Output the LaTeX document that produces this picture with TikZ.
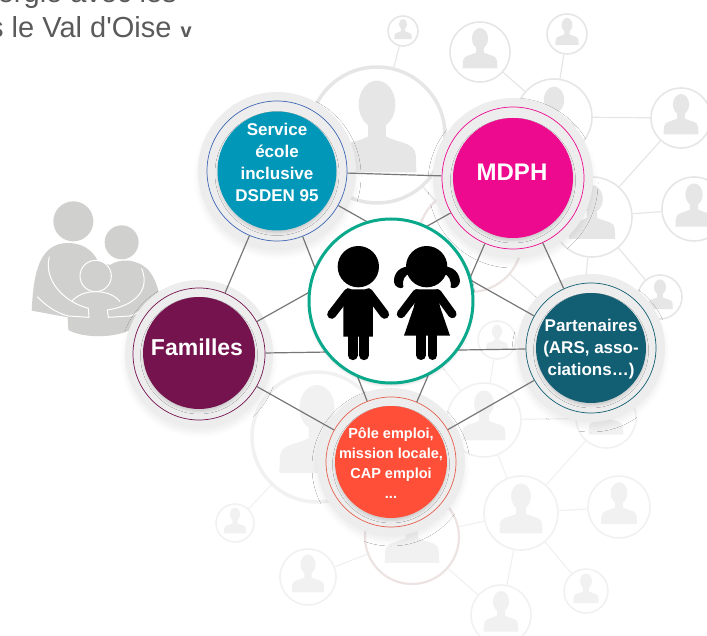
\documentclass[tikz,border=0pt]{standalone}
\usepackage{fontspec}
\setmainfont{Liberation Sans}
\usetikzlibrary{shadows.blur}
\definecolor{halogray}{HTML}{EDEDED}
\definecolor{linkgray}{HTML}{777777}
\definecolor{bgline}{HTML}{E6E6E6}
\definecolor{bglight}{HTML}{F1F1F1}
\definecolor{bgpink}{HTML}{EDE3E3}
\definecolor{familygray}{HTML}{D0D0CF}
\definecolor{titlegray}{HTML}{5A5A5A}
\definecolor{schoolblue}{HTML}{0097B8}
\definecolor{schoolring}{HTML}{3F67B5}
\definecolor{mdphpink}{HTML}{EE0A8F}
\definecolor{familyplum}{HTML}{75134F}
\definecolor{partnerteal}{HTML}{125E73}
\definecolor{jobred}{HTML}{FF4F38}
\definecolor{jobring}{HTML}{E5604F}
\definecolor{kidgreen}{HTML}{0AA98C}
\tikzstyle{contact}=[circle,draw=bgline,fill=white,line width=1.6pt,inner sep=0pt]
\tikzstyle{contactlight}=[contact,draw=bglight]
\tikzstyle{contactlink}=[draw=bgline,line width=1.2pt]
\tikzstyle{contactlinklight}=[draw=bglight,line width=1.2pt]
\tikzstyle{softshadow}=[blur shadow={shadow xshift=0pt,shadow yshift=-5pt,shadow blur radius=5pt,shadow blur steps=8,shadow opacity=7}]
\tikzstyle{discshadow}=[blur shadow={shadow xshift=0pt,shadow yshift=-2.5pt,shadow blur radius=2.5pt,shadow blur steps=4,shadow opacity=14}]
\tikzstyle{hubhalo}=[circle,fill=halogray,inner sep=0pt,softshadow]
\tikzstyle{hubring}=[circle,fill=halogray,line width=.7pt,inner sep=0pt]
\tikzstyle{hubdisc}=[circle,inner sep=0pt,discshadow]
\tikzstyle{hublink}=[draw=linkgray,line width=1.2pt]
\tikzstyle{hubtext}=[text=white,font=\bfseries,align=center,inner sep=0pt]
\tikzset{
  person/.pic={
    \fill[pic actions] (0,-.45) ellipse (.27 and .35);
    \fill[pic actions] (-.13,-.2) -- (-.13,.02) .. controls (-.3,.12) and (-.56,.1) .. (-.57,.3) -- (-.58,.55) -- (.58,.55) -- (.57,.3) .. controls (.56,.1) and (.3,.12) .. (.13,.02) -- (.13,-.2) -- cycle;
  }
}

\begin{document}
\begin{tikzpicture}[x=1pt,y=-1pt]
\useasboundingbox (0,0) rectangle (707,636);
\clip (0,0) rectangle (707,636);

% title, cut by the frame
\node[anchor=base east,inner sep=0pt,text=titlegray,font=\fontsize{29}{29}\selectfont] (titleA) at (177,3) {ergie avec les};
\node[anchor=base west,inner sep=0pt,text=titlegray,font=\fontsize{29}{29}\selectfont] (titleB) at (-11,38) {s le Val d\textquotesingle Oise};
\node[anchor=base west,inner sep=0pt,text=titlegray,font=\fontsize{20}{20}\selectfont\bfseries] (titleV) at (180.5,38) {v};

% family
\begin{scope}[shift={(20,190)},x=.3333pt,y=-.3333pt]
\fill[familygray] (160,94) circle (60);
\fill[familygray] (305,157) circle (51);
\fill[familygray] (35,362) .. controls (40,270) and (50,170) .. (130,160) .. controls (180,155) and (215,175) .. (235,215) -- (270,225) .. controls (300,205) and (350,205) .. (385,240) .. controls (410,270) and (420,310) .. (420,345) -- (330,420) .. controls (280,445) and (190,445) .. (145,420) -- (143,382) -- cycle;
\draw[white,line width=1pt] (88,200) .. controls (70,270) and (130,335) .. (205,355) -- (207,382) -- (145,378) .. controls (110,370) and (75,345) .. (52,320);
\draw[white,line width=1pt] (365,235) .. controls (395,310) and (330,350) .. (262,360) -- (265,382) -- (330,378) .. controls (365,365) and (395,345) .. (420,322);
\draw[white,line width=1pt] (155,335) .. controls (185,295) and (270,295) .. (300,335);
\draw[familygray,fill=familygray,line width=0pt] (227,258) circle (46);
\draw[white,line width=1pt] (227,258) circle (47);
\end{scope}

% contacts behind
\node[contact,line width=3.5pt,minimum size=136pt] (big) at (377,135) {};
\node[contact,minimum size=76pt] (d) at (554,117) {};
\node[contact,minimum size=80pt] (g) at (592,217) {};
\node[contact,draw=bgpink,line width=2.2pt,minimum size=104pt] (t) at (470,240) {};
\node[contact,minimum size=30pt] (a) at (403,31) {};
\node[contact,minimum size=60pt] (b) at (480,52) {};
\node[contact,minimum size=40pt] (c) at (567,34) {};
\node[contact,minimum size=60pt] (e) at (681,118) {};
\node[contact,minimum size=64pt] (f) at (694,209) {};
\node[contact,minimum size=44pt] (h) at (660,297) {};
\node[contactlight,minimum size=38pt] (i) at (497,340) {};
\node[contactlight,minimum size=74pt] (j) at (484,420) {};
\node[contactlight,minimum size=60pt] (k) at (606,418) {};
\node[contactlight,minimum size=74pt] (l) at (521,513) {};
\node[contactlight,minimum size=62pt] (m) at (619,507) {};
\node[contactlight,minimum size=44pt] (n) at (586,591) {};
\node[contactlight,minimum size=60pt] (o) at (501,615) {};
\node[contact,draw=bgpink,line width=2.2pt,minimum size=94pt] (p) at (412,537) {};
\node[contactlight,line width=3.5pt,minimum size=130pt] (q) at (317,437) {};
\node[contactlight,minimum size=38pt] (r) at (235,523) {};
\node[contactlight,minimum size=56pt] (s) at (308,577) {};
\coordinate (hidA) at (580,335);
\coordinate (hidB) at (425,345);

\pic[fill=bgline,scale=68] at (big) {person};
\pic[fill=bgline,scale=38] at (d) {person};
\pic[fill=bgline,scale=40] at (g) {person};
\pic[fill=bgline,scale=15] at (a) {person};
\pic[fill=bgline,scale=30] at (b) {person};
\pic[fill=bgline,scale=20] at (c) {person};
\pic[fill=bgline,scale=30] at (e) {person};
\pic[fill=bgline,scale=32] at (f) {person};
\pic[fill=bgline,scale=22] at (h) {person};
\pic[fill=bglight,scale=19] at (i) {person};
\pic[fill=bglight,scale=37] at (j) {person};
\pic[fill=bglight,scale=30] at (k) {person};
\pic[fill=bglight,scale=37] at (l) {person};
\pic[fill=bglight,scale=31] at (m) {person};
\pic[fill=bglight,scale=22] at (n) {person};
\pic[fill=bglight,scale=30] at (o) {person};
\pic[fill=bglight,scale=47] at (p) {person};
\pic[fill=bglight,scale=65] at (q) {person};
\pic[fill=bglight,scale=19] at (r) {person};
\pic[fill=bglight,scale=28] at (s) {person};

\draw[contactlink] (a) -- (big);
\draw[contactlink] (b) -- (d);
\draw[contactlink] (c) -- (d);
\draw[contactlink] (d) -- (e);
\draw[contactlink] (e) -- (g);
\draw[contactlink] (f) -- (g);
\draw[contactlink] (g) -- (h);
\draw[contactlink] (g) -- (hidA);
\draw[contactlink] (big) -- (t);
\draw[contactlink] (t) -- (hidA);
\draw[contactlinklight] (i) -- (j);
\draw[contactlinklight] (hidB) -- (j);
\draw[contactlinklight] (j) -- (k);
\draw[contactlinklight] (j) -- (l);
\draw[contactlinklight] (k) -- (l);
\draw[contactlinklight] (l) -- (m);
\draw[contactlinklight] (l) -- (n);
\draw[contactlinklight] (l) -- (o);
\draw[contactlinklight] (l) -- (p);
\draw[contactlinklight] (p) -- (o);
\draw[contactlinklight] (p) -- (s);
\draw[contactlinklight] (q) -- (r);

% halos
\node[hubhalo,minimum size=158pt] (serviceHalo) at (277,171) {};
\node[hubhalo,minimum size=160pt] (mdphHalo) at (513,178) {};
\node[hubhalo,minimum size=148pt] (famillesHalo) at (199,354) {};
\node[hubhalo,minimum size=148pt] (partenairesHalo) at (591,348) {};
\node[hubhalo,minimum size=148pt] (poleHalo) at (391,462) {};

% rings
\node[hubring,draw=schoolring,minimum size=140pt] (service) at (277,171) {};
\node[hubring,draw=mdphpink,minimum size=142pt] (mdph) at (513,178) {};
\node[hubring,draw=familyplum,minimum size=132pt] (familles) at (199,354) {};
\node[hubring,draw=partnerteal,minimum size=130pt] (partenaires) at (591,348) {};
\node[hubring,draw=jobring,minimum size=130pt] (pole) at (391,462) {};

\draw[hublink] (service) -- (mdph);
\draw[hublink] (service) -- (familles);
\draw[hublink] (service) -- (partenaires);
\draw[hublink] (service) -- (pole);
\draw[hublink] (mdph) -- (familles);
\draw[hublink] (mdph) -- (partenaires);
\draw[hublink] (mdph) -- (pole);
\draw[hublink] (familles) -- (partenaires);
\draw[hublink] (familles) -- (pole);
\draw[hublink] (partenaires) -- (pole);

% discs and texts
\node[hubdisc,fill=schoolblue,minimum size=119pt] (serviceDisc) at (277,171) {};
\node[hubdisc,fill=mdphpink,minimum size=120pt] (mdphDisc) at (513,178) {};
\node[hubdisc,fill=familyplum,minimum size=112pt] (famillesDisc) at (199,353) {};
\node[hubdisc,fill=partnerteal,minimum size=110pt] (partenairesDisc) at (591,348) {};
\node[hubdisc,fill=jobred,minimum size=112pt] (poleDisc) at (391,462) {};

\node[hubtext,font=\bfseries\fontsize{17}{22}\selectfont] (serviceText) at (277,162) {Service\\école\\inclusive\\DSDEN 95};
\node[hubtext,font=\bfseries\fontsize{24}{24}\selectfont] (mdphText) at (512,172) {MDPH};
\node[hubtext,font=\bfseries\fontsize{23}{23}\selectfont] (famillesText) at (197,347) {Familles};
\node[hubtext,font=\bfseries\fontsize{17}{22}\selectfont] (partenairesText) at (591,349) {Partenaires\\(ARS, asso-\\ciations…)};
\node[hubtext,font=\bfseries\fontsize{14.5}{20}\selectfont] (poleText) at (391,463) {Pôle emploi,\\mission locale,\\CAP emploi\\...};

% children
\node[circle,draw=kidgreen,fill=white,line width=3pt,inner sep=0pt,minimum size=164pt,discshadow] (kids) at (391,301) {};
\begin{scope}[shift={(300,210)},x=.3333pt,y=-.3333pt]
\fill[black] (175,170) circle (62);
\fill[black] (145,238) -- (203,238) -- (218,250) -- (219,380) -- (130,380) -- (130,250) -- cycle;
\draw[black,line width=9pt,line cap=round] (145,248) -- (95,313);
\draw[black,line width=9pt,line cap=round] (205,248) -- (254,313);
\draw[black,line width=9.7pt,line cap=round] (158,375) -- (158,436);
\draw[black,line width=9.7pt,line cap=round] (192,375) -- (192,436);
\fill[black] (380,170) circle (62);
\fill[black] (325,170) .. controls (290,170) and (275,205) .. (285,225) .. controls (295,238) and (310,235) .. (310,230) .. controls (305,210) and (315,195) .. (330,190) -- cycle;
\fill[black] (435,170) .. controls (470,170) and (485,205) .. (478,222) .. controls (470,238) and (455,235) .. (452,232) .. controls (455,210) and (445,195) .. (430,190) -- cycle;
\fill[black] (350,238) -- (412,238) -- (420,290) -- (450,377) -- (312,377) -- (342,290) -- cycle;
\draw[black,line width=8.5pt,line cap=round] (350,250) -- (303,312);
\draw[black,line width=8.5pt,line cap=round] (412,250) -- (457,312);
\draw[black,line width=9.4pt,line cap=round] (363,375) -- (363,436);
\draw[black,line width=9.4pt,line cap=round] (398,375) -- (398,436);
\end{scope}

\end{tikzpicture}
\end{document}
